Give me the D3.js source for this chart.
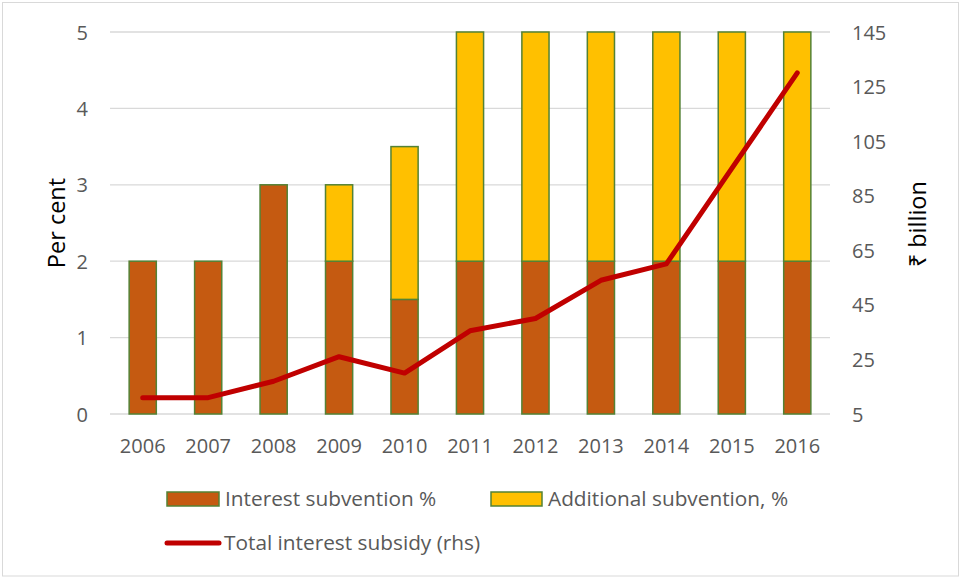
<!DOCTYPE html>
<html><head><meta charset="utf-8">
<script src="https://cdn.jsdelivr.net/npm/d3@7"></script>
<style>body{margin:0;background:#fff}svg{display:block}text{font-family:"Open Sans","Liberation Sans",sans-serif}</style>
</head><body>
<svg id="c" width="962" height="578"></svg>
<script>
const years = ["2006","2007","2008","2009","2010","2011","2012","2013","2014","2015","2016"];
const interestSubvention = [2,2,3,2,1.5,2,2,2,2,2,2];
const additionalSubvention = [0,0,0,1,2,3,3,3,3,3,3];
const totalSubsidy = [11,11,17,26,20,35.5,40,54,60,95,130];
const leftTicks = [0,1,2,3,4,5];
const rightTicks = [5,25,45,65,85,105,125,145];
const seriesNames = ["Interest subvention %","Additional subvention, %","Total interest subsidy (rhs)"];

const svg = d3.select("#c");
const W=962,H=578;
svg.append("rect").attr("x",2.5).attr("y",2.5).attr("width",W-6).attr("height",H-4.5).attr("fill","#fff").attr("stroke","#D9D9D9");
const m={l:110,r:830,t:32,b:414};
const x=d3.scaleBand().domain(years).range([m.l,m.r]).paddingInner(0.585).paddingOuter(0.2925);
const yL=d3.scaleLinear().domain([0,5]).range([m.b,m.t]);
const yR=d3.scaleLinear().domain([5,145]).range([m.b,m.t]);

svg.append("g").selectAll("line").data(leftTicks).join("line")
 .attr("x1",m.l).attr("x2",m.r).attr("y1",d=>yL(d)).attr("y2",d=>yL(d))
 .attr("stroke","#D9D9D9").attr("stroke-width",1.3);

const tc="#595959", fs=20, lfs=20.8;
const axL=d3.axisLeft(yL).tickValues(leftTicks).tickFormat(d3.format("d")).tickSize(0).tickPadding(0);
const gL=svg.append("g").attr("transform",`translate(${m.l-22},0)`).call(axL);
gL.select(".domain").remove();
gL.selectAll("text").attr("font-size",fs).attr("fill",tc).attr("text-anchor","end").attr("dy","0.35em");
const axR=d3.axisRight(yR).tickValues(rightTicks).tickSize(0).tickPadding(0);
const gR=svg.append("g").attr("transform",`translate(${m.r+22},0)`).call(axR);
gR.select(".domain").remove();
gR.selectAll("text").attr("font-size",fs).attr("fill",tc).attr("dy","0.35em");
const axB=d3.axisBottom(x).tickSize(0).tickPadding(0);
const gB=svg.append("g").attr("transform",`translate(0,${m.b+25})`).call(axB);
gB.select(".domain").remove();
gB.selectAll("text").attr("font-size",fs).attr("fill",tc).attr("dy","0.71em");

const cO="#C55A11",cY="#FFC000",cG="#548235";
const stack=years.map((y,i)=>({y,a:interestSubvention[i],b:additionalSubvention[i]}));
svg.append("g").selectAll("rect").data(stack).join("rect")
 .attr("x",d=>x(d.y)).attr("width",x.bandwidth()).attr("y",d=>yL(d.a)).attr("height",d=>yL(0)-yL(d.a))
 .attr("fill",cO).attr("stroke",cG).attr("stroke-width",1.5);
svg.append("g").selectAll("rect").data(stack.filter(d=>d.b>0)).join("rect")
 .attr("x",d=>x(d.y)).attr("width",x.bandwidth()).attr("y",d=>yL(d.a+d.b)).attr("height",d=>yL(d.a)-yL(d.a+d.b))
 .attr("fill",cY).attr("stroke",cG).attr("stroke-width",1.5);

const line=d3.line().x((d,i)=>x(years[i])+x.bandwidth()/2).y(d=>yR(d));
svg.append("path").datum(totalSubsidy).attr("d",line).attr("fill","none")
 .attr("stroke","#C00000").attr("stroke-width",5).attr("stroke-linecap","round").attr("stroke-linejoin","round");

svg.append("text").attr("transform","translate(65,223) rotate(-90)").attr("text-anchor","middle")
 .attr("font-size",23.5).attr("fill","#000").text("Per cent");
svg.append("text").attr("transform","translate(926,224) rotate(-90)").attr("text-anchor","middle")
 .attr("font-size",23.5).attr("fill","#000").text("₹ billion");

const lg=svg.append("g");
lg.append("rect").attr("x",167).attr("y",492).attr("width",52).attr("height",14).attr("fill",cO).attr("stroke",cG).attr("stroke-width",1.5);
lg.append("text").attr("x",225).attr("y",499).attr("dy","0.35em").attr("font-size",lfs).attr("fill",tc).text(seriesNames[0]);
lg.append("rect").attr("x",491).attr("y",492).attr("width",51).attr("height",14).attr("fill",cY).attr("stroke",cG).attr("stroke-width",1.5);
lg.append("text").attr("x",548).attr("y",499).attr("dy","0.35em").attr("font-size",lfs).attr("fill",tc).text(seriesNames[1]);
lg.append("line").attr("x1",167).attr("x2",219).attr("y1",543).attr("y2",543).attr("stroke","#C00000").attr("stroke-width",5).attr("stroke-linecap","round");
lg.append("text").attr("x",224).attr("y",543).attr("dy","0.35em").attr("font-size",lfs).attr("fill",tc).text(seriesNames[2]);
</script>
</body></html>
